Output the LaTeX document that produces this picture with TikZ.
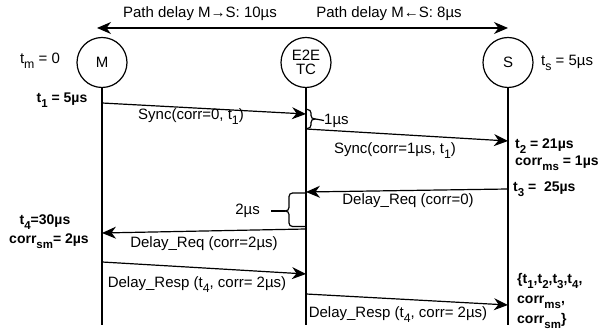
\documentclass[tikz,border=0pt]{standalone}
\usepackage{fontspec}
\setmainfont{Liberation Sans}
\usetikzlibrary{arrows.meta}
\newcommand\mysubs[1]{\raisebox{-0.33em}{\scalebox{0.82}{#1}}}
\begin{document}
\begin{tikzpicture}[x=1pt,y=-1pt,
 lbl/.style={font=\fontsize{15}{17}\selectfont, inner sep=0pt},
 bl/.style={font=\bfseries\fontsize{14}{16}\selectfont, inner sep=0pt},
 actor/.style={circle, draw, line width=1.2pt, minimum size=50pt, inner sep=0pt, align=center, font=\fontsize{15}{16}\selectfont},
 life/.style={line width=1.2pt},
 msg/.style={line width=1.2pt, -{Stealth[length=14pt,width=12pt,inset=4.5pt]}},
 dmsg/.style={line width=1.2pt, {Stealth[length=14pt,width=12pt,inset=4.5pt]}-{Stealth[length=14pt,width=12pt,inset=4.5pt]}},
 bracestyle/.style={line width=1.2pt, rounded corners=3.5pt}]
\useasboundingbox (0,0) rectangle (608,336);

% actors
\node[actor] (M) at (102,62.5) {M};
\node[actor] (TC) at (306,62.5) {E2E\\[-2pt]TC};
\node[actor] (S) at (508,62.5) {S};

% lifelines
\coordinate (Mend) at (102,325);
\coordinate (TCend) at (306,325);
\coordinate (Send) at (508,325);
\draw[life] (M.south) -- (Mend);
\draw[life] (TC.south) -- (TCend);
\draw[life] (S.south) -- (Send);

% top path delay arrow
\coordinate (pl) at (97,28);
\coordinate (pr) at (508,28);
\draw[dmsg] (pl) -- (pr);
\node[lbl] (pd1) at (200,14) {Path delay M→S: 10µs};
\node[lbl] (pd2) at (389,14) {Path delay M←S: 8µs};

% clock labels
\node[lbl] (tm) at (40,61) {t\mysubs{m} = 0};
\node[lbl, anchor=west] (ts) at (541,63) {t\mysubs{s} = 5µs};

% message points
\coordinate (a1) at (102,103);
\coordinate (a2) at (306,114);
\coordinate (b1) at (306,129);
\coordinate (b2) at (508,141);
\coordinate (c1) at (508,189);
\coordinate (c2) at (306,192);
\coordinate (d1) at (306,229);
\coordinate (d2) at (102,233);
\coordinate (e1) at (102,262);
\coordinate (e2) at (306,274);
\coordinate (f1) at (306,294);
\coordinate (f2) at (508,305);

\draw[msg] (a1) -- (a2);
\draw[msg] (b1) -- (b2);
\draw[msg] (c1) -- (c2);
\draw[msg] (d1) -- (d2);
\draw[msg] (e1) -- (e2);
\draw[msg] (f1) -- (f2);

% message labels
\node[lbl] (la) at (191,116.5) {Sync(corr=0, t\mysubs{1})};
\node[lbl] (lb) at (395,151) {Sync(corr=1µs, t\mysubs{1})};
\node[lbl] (lc) at (408,201) {Delay\_Req (corr=0)};
\node[lbl] (ld) at (204,244) {Delay\_Req (corr=2µs)};
\node[lbl] (le) at (197,284.5) {Delay\_Resp (t\mysubs{4}, corr= 2µs)};
\node[lbl] (lf) at (398,314.5) {Delay\_Resp (t\mysubs{4}, corr= 2µs)};

% brace 1
\coordinate (br1t) at (306,109.5);
\coordinate (br1b) at (306,128.5);
\coordinate (br1tip) at (315.5,119);
\draw[bracestyle] (br1t) -- (311,109.5) -- (311,119) -- (br1tip);
\draw[bracestyle] (br1b) -- (311,128.5) -- (311,119) -- (br1tip);
\node[lbl, anchor=west] (one) at (324,120.5) {1µs};
\draw[line width=1.2pt] (br1tip) -- (one.west);

% brace 2
\coordinate (br2t) at (306,193);
\coordinate (br2b) at (306,226.5);
\coordinate (br2tip) at (284.5,211);
\draw[bracestyle] (br2t) -- (289,193) -- (289,211) -- (br2tip);
\draw[bracestyle] (br2b) -- (289,226.5) -- (289,211) -- (br2tip);
\node[lbl, anchor=east] (two) at (260,211) {2µs};
\draw[line width=1.2pt] (br2tip) -- (271,211);

% bold time labels
\node[bl] (t1) at (62,100) {t\mysubs{1} = 5µs};
\node[bl, anchor=west] (t2) at (515,146) {t\mysubs{2} = 21µs};
\node[bl, anchor=west] (cms) at (515,163) {corr\mysubs{ms} = 1µs};
\node[bl, anchor=west] (t3) at (513,189) {t\mysubs{3} =\ \ 25µs};
\node[bl] (t4) at (45,222) {t\mysubs{4}=30µs};
\node[bl] (csm) at (49,241) {corr\mysubs{sm}= 2µs};
\node[bl, anchor=west] (set1) at (517,281) {\{t\mysubs{1},t\mysubs{2},t\mysubs{3},t\mysubs{4},};
\node[bl, anchor=west] (set2) at (517,302) {corr\mysubs{ms},};
\node[bl, anchor=west] (set3) at (517,321) {corr\mysubs{sm}\}};
\end{tikzpicture}
\end{document}
